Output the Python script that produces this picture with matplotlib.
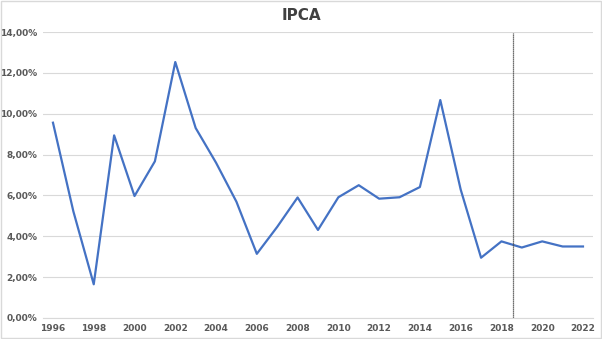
import matplotlib.pyplot as plt
from matplotlib.ticker import FuncFormatter
from matplotlib.patches import Rectangle

# IPCA annual values (%)
years = list(range(1996, 2023))
ipca = [9.56, 5.22, 1.65, 8.94, 5.97, 7.67, 12.53, 9.30, 7.60, 5.69,
        3.14, 4.46, 5.90, 4.31, 5.91, 6.50, 5.84, 5.91, 6.41, 10.67,
        6.29, 2.95, 3.75, 3.45, 3.75, 3.50, 3.50]
marker_year = 2018.57

fig = plt.figure(figsize=(6.02, 3.39), dpi=100)
ax = fig.add_axes([0.0714, 0.062, 0.9136, 0.8436])

ax.plot(years, ipca, color='#4472C4', linewidth=1.6)
ax.axvline(marker_year, ymin=0, ymax=0.995, color='#404040',
           linewidth=0.9, linestyle=(0, (1, 0.6)))

ax.set_xlim(1995.51, 2022.49)
ax.set_ylim(0, 14)
ax.set_xticks(range(1996, 2023, 2))
ax.set_yticks(range(0, 15, 2))
ax.yaxis.set_major_formatter(FuncFormatter(lambda v, p: f'{v:.2f}%'.replace('.', ',')))

ax.grid(axis='y', color='#D9D9D9', linewidth=0.8)
ax.set_axisbelow(True)
for s in ['top', 'right', 'left']:
    ax.spines[s].set_visible(False)
ax.spines['bottom'].set_color('#D9D9D9')
ax.tick_params(length=0, labelsize=6.5, labelcolor='#595959', pad=4)
for lab in ax.get_xticklabels() + ax.get_yticklabels():
    lab.set_fontweight('bold')

fig.text(0.5, 0.955, 'IPCA', ha='center', va='center', fontsize=11,
         fontweight='bold', color='#404040')

fig.patches.append(Rectangle((0.001, 0.002), 0.997, 0.995, transform=fig.transFigure,
                             fill=False, edgecolor='#D9D9D9', linewidth=1))

fig.savefig('out.png', dpi=100)
